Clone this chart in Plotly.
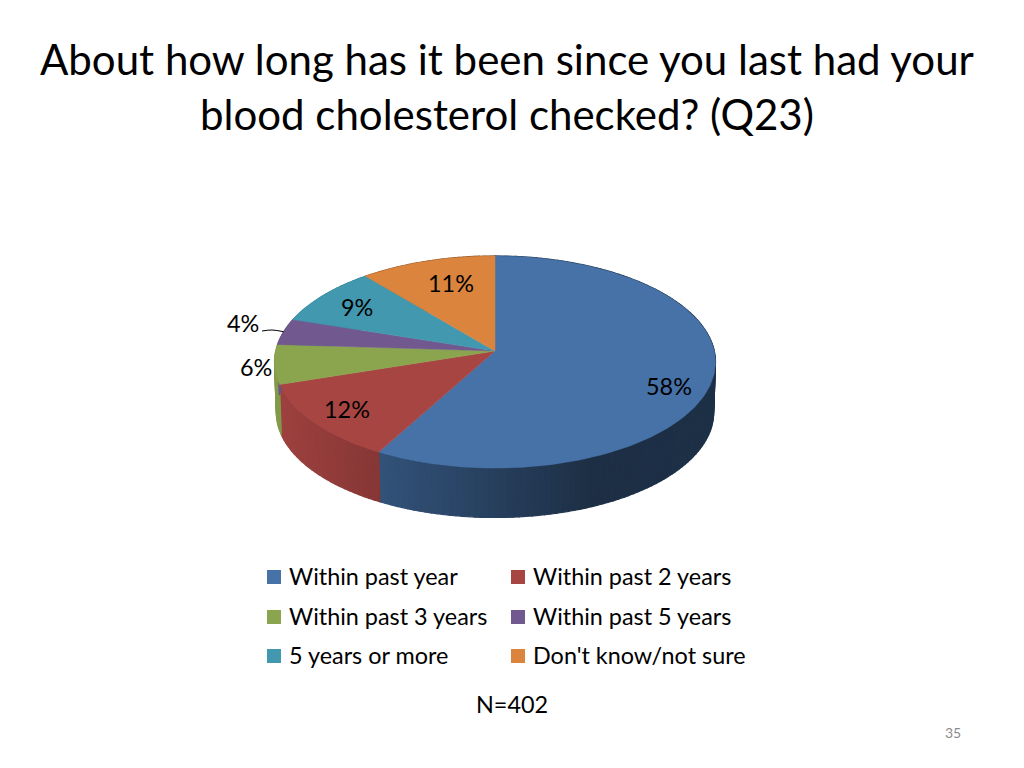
#!/usr/bin/env python3
# 3D-look pie of Q23 responses, drawn as projected wedges on a page-sized axis
import numpy as np
import plotly.graph_objects as go

TITLE_LINES = ["About how long has it been since you last had your",
               "blood cholesterol checked? (Q23)"]
CATEGORIES = ["Within past year", "Within past 2 years", "Within past 3 years",
              "Within past 5 years", "5 years or more", "Don't know/not sure"]
VALUES = [58, 12, 6, 4, 9, 11]
COLORS = ["#4672A8", "#A74543", "#8AA54E", "#71588F", "#4198AF", "#DB843D"]
FOOTNOTE = "N=402"
PAGE_NO = "35"

FONT = "Lato"
W, H = 1024, 768
# pie projection: apex position, radii, perspective, wall depth
CX, CY, RX, RY, PERSP, DEPTH = 495, 351, 219.3, 104.9, 0.1038, 50.5


def project(angle, r=1.0, drop=0.0):
    # angle in radians, clockwise from 12 o'clock
    u, v = r * np.sin(angle), -r * np.cos(angle)
    s = 1 / (1 - PERSP * v)
    return CX + RX * u * s, CY + RY * v * s + drop


def shade(hex_color, f):
    rgb = [int(hex_color[i:i + 2], 16) for i in (1, 3, 5)]
    return "rgb(%d,%d,%d)" % tuple(round(c * f) for c in rgb)


fig = go.Figure()
edges = np.cumsum([0] + VALUES) / sum(VALUES) * 2 * np.pi

# outer walls first, the top faces cover whatever is at the back
for val, col, a0, a1 in zip(VALUES, COLORS, edges[:-1], edges[1:]):
    n = max(2, int(np.degrees(a1 - a0) / 1.5))
    ts = np.linspace(a0, a1, n + 1)
    for t0, t1 in zip(ts[:-1], ts[1:]):
        xt, yt = project(np.array([t0, t1]))
        xb, yb = project(np.array([t1, t0]), r=0.992, drop=DEPTH)
        f = np.interp(xt.mean(), [280, 378, 378.01, 450, 590, 715],
                      [0.94, 0.80, 0.72, 0.62, 0.41, 0.42])
        # wide outline so neighbouring strips leave no seams
        fig.add_trace(go.Scatter(
            x=np.r_[xt, xb, xt[0]], y=np.r_[yt, yb, yt[0]], mode="lines", fill="toself",
            fillcolor=shade(col, f), line=dict(color=shade(col, f), width=1.2),
            hoverinfo="skip", showlegend=False))

# top faces
for cat, val, col, a0, a1 in zip(CATEGORIES, VALUES, COLORS, edges[:-1], edges[1:]):
    ts = np.linspace(a0, a1, max(3, int(np.degrees(a1 - a0))))
    x, y = project(ts)
    fig.add_trace(go.Scatter(
        x=np.r_[CX, x, CX], y=np.r_[CY, y, CY], mode="lines", fill="toself",
        fillcolor=col, line=dict(color=col, width=0.5), name=cat,
        text=f"{cat}: {val}%", hoverinfo="text", showlegend=False))

# leader line for the 4% label
mid4 = (edges[3] + edges[4]) / 2
x4, y4 = project(mid4)
fig.add_trace(go.Scatter(x=[262, 272, x4], y=[331, 330, y4], mode="lines",
                         line=dict(color="black", width=1, shape="spline"),
                         hoverinfo="skip", showlegend=False))

# legend squares
LEG_X = [274, 518]
LEG_Y = [577, 617, 656]
for i, (cat, col) in enumerate(zip(CATEGORIES, COLORS)):
    fig.add_trace(go.Scatter(
        x=[LEG_X[i % 2]], y=[LEG_Y[i // 2]], mode="markers",
        marker=dict(symbol="square", size=14, color=col), name=cat,
        hoverinfo="skip", showlegend=False))


def put(x, y, text, size, color="black", anchor="center"):
    fig.add_annotation(x=x, y=y - 1, text=text, showarrow=False, xanchor=anchor,
                       yanchor="middle", font=dict(family=FONT, size=size, color=color))


TITLE_SIZE, LABEL_SIZE = 42, 23.4
put(507, 60, TITLE_LINES[0], TITLE_SIZE)
put(507, 115, TITLE_LINES[1], TITLE_SIZE)

LABEL_POS = [(669, 387), (347, 410), (256, 368), (243, 324), (357, 308), (451, 284)]
for v, (lx, ly) in zip(VALUES, LABEL_POS):
    put(lx, ly, f"{v}%", LABEL_SIZE)

for i, cat in enumerate(CATEGORIES):
    put(LEG_X[i % 2] + 13, LEG_Y[i // 2], cat, LABEL_SIZE, anchor="left")
put(512, 705, FOOTNOTE, LABEL_SIZE)
put(953, 733, PAGE_NO, 14, color="#8B8B8B")

fig.update_xaxes(range=[0, W], visible=False, fixedrange=True)
fig.update_yaxes(range=[H, 0], visible=False, fixedrange=True)
fig.update_layout(width=W, height=H, margin=dict(l=0, r=0, t=0, b=0),
                  plot_bgcolor="white", paper_bgcolor="white", showlegend=False)
fig.write_html("out.html", config=dict(displayModeBar=False),
               post_script="document.body.style.margin='0';document.body.style.overflow='hidden';")
